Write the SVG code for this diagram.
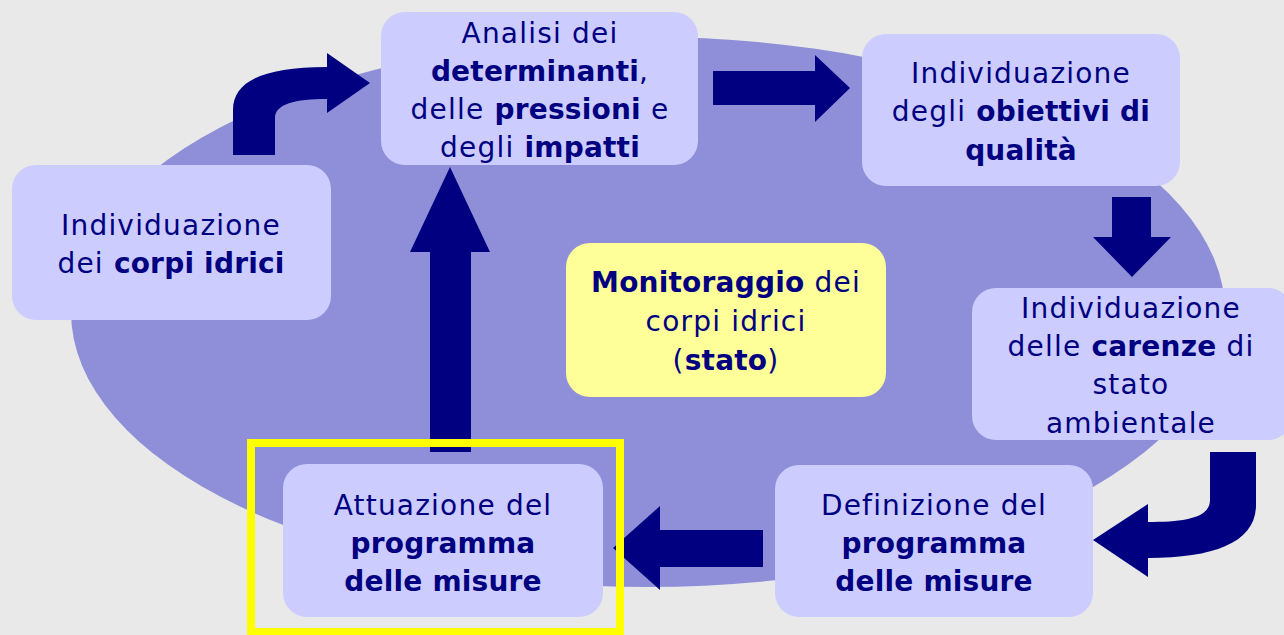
<svg xmlns="http://www.w3.org/2000/svg" width="1284" height="635" viewBox="0 0 1284 635">
<style>
.box{fill:#CCCCFF;}
.mon{fill:#FFFF99;}
.arr{fill:#000080;}
text{font-family:"DejaVu Sans","Liberation Sans",sans-serif;font-size:28px;fill:#000080;text-anchor:middle;letter-spacing:1.2px;}
.b{font-weight:bold;letter-spacing:0.2px;}
</style>
<rect width="1284" height="635" fill="#E9E9E9"/>
<ellipse cx="648" cy="312" rx="577" ry="275" fill="#8F8FD9"/>
<g id="connectors">
<path class="arr" d="M713,71 L815,71 L815,55 L850,88 L815,122 L815,105 L713,105 Z"/>
<path class="arr" d="M1112,197 L1151,197 L1151,237 L1171,237 L1132,277 L1093,237 L1112,237 Z"/>
<path class="arr" d="M763,530 L660,530 L660,506 L613,548 L660,590 L660,567 L763,567 Z"/>
<path class="arr" d="M430,452 L430,252 L410,252 L450,167 L490,252 L471,252 L471,452 Z"/>
<path class="arr" d="M233,155 L233,110 C233,82 262,67 327,67 L327,53 L370,83 L327,113 L327,99 C295,99 275,104 275,118 L275,155 Z"/>
<path class="arr" d="M1210,452 L1256,452 L1256,505 C1256,542 1215,558 1148,558 L1148,577 L1093,540 L1148,504 L1148,522 C1185,522 1210,518 1210,500 Z"/>
</g>
<g id="n1">
<rect class="box" x="381" y="12" width="317" height="153" rx="24"/>
<text x="540" y="43">Analisi dei</text>
<text x="540" y="81"><tspan class="b">determinanti</tspan>,</text>
<text x="540" y="119">delle <tspan class="b">pressioni</tspan> e</text>
<text x="540" y="157">degli <tspan class="b">impatti</tspan></text>
</g>
<g id="n2">
<rect class="box" x="862" y="34" width="318" height="152" rx="24"/>
<text x="1021" y="83">Individuazione</text>
<text x="1021" y="121">degli <tspan class="b">obiettivi di</tspan></text>
<text x="1021" y="160" class="b">qualità</text>
</g>
<g id="n3">
<rect class="box" x="972" y="288" width="320" height="152" rx="24"/>
<text x="1131" y="318">Individuazione</text>
<text x="1131" y="356">delle <tspan class="b">carenze</tspan> di</text>
<text x="1131" y="394">stato</text>
<text x="1131" y="433">ambientale</text>
</g>
<g id="n4">
<rect class="box" x="775" y="465" width="318" height="152" rx="24"/>
<text x="934" y="515">Definizione del</text>
<text x="934" y="553" class="b">programma</text>
<text x="934" y="591" class="b">delle misure</text>
</g>
<g id="n5">
<rect class="box" x="283" y="464" width="320" height="153" rx="24"/>
<text x="443" y="515">Attuazione del</text>
<text x="443" y="553" class="b">programma</text>
<text x="443" y="591" class="b">delle misure</text>
<rect x="251" y="443" width="369" height="189" fill="none" stroke="#FFFF00" stroke-width="8"/>
</g>
<g id="n6">
<rect class="box" x="12" y="165" width="319" height="155" rx="24"/>
<text x="171" y="235">Individuazione</text>
<text x="171" y="273">dei <tspan class="b">corpi idrici</tspan></text>
</g>
<g id="n7">
<rect class="mon" x="566" y="243" width="320" height="154" rx="24"/>
<text x="726" y="292"><tspan class="b">Monitoraggio</tspan> dei</text>
<text x="726" y="331">corpi idrici</text>
<text x="726" y="370">(<tspan class="b">stato</tspan>)</text>
</g>
</svg>
